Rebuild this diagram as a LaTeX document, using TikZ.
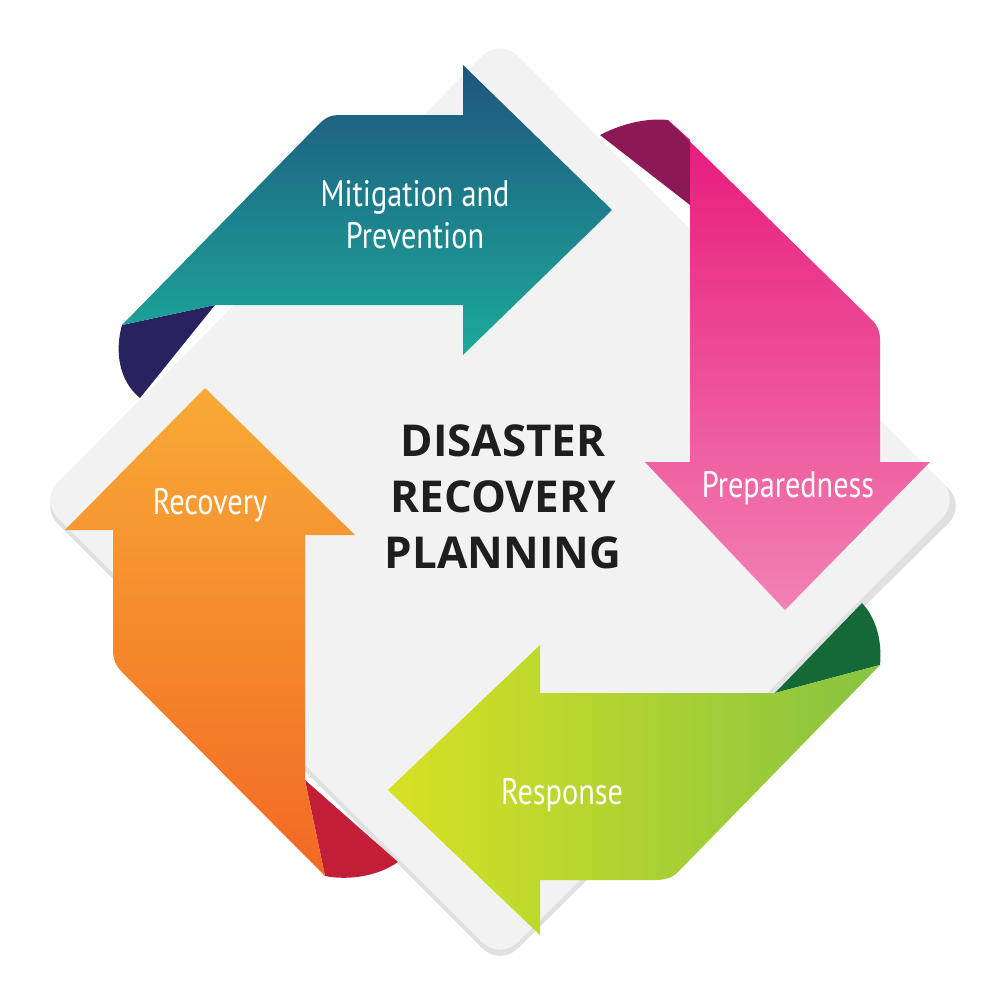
\documentclass[tikz,border=0pt]{standalone}
\usepackage{fontspec}
\setmainfont{PT Sans}
\newfontfamily\boldf{Open Sans}
\begin{document}
\begin{tikzpicture}[x=0.1mm,y=-0.1mm,
  lbl/.style={text=white,font=\fontsize{10.5}{12}\selectfont,xscale=0.82,align=center},
  fold/.style={draw=none}]
\useasboundingbox (0,0) rectangle (1000,1000);
% diamond with shadow
\fill[black!12,rounded corners=7pt] (500,46) -- (966,506) -- (500,966) -- (40,506) -- cycle;
\fill[gray!10,rounded corners=7pt] (500,38) -- (960,500) -- (500,960) -- (40,500) -- cycle;
% top teal arrow
\fill[fold,fill={rgb,255:red,40;green,35;blue,95}] (122,325) -- (215,305) -- (140,398) .. controls (118,380) and (115,350) .. (122,325);
\shade[left color={rgb,255:red,30;green,85;blue,125},right color={rgb,255:red,28;green,170;blue,155},shading angle=0]
 (122,325) -- (318,125) .. controls (325,118) and (330,115) .. (340,115) -- (463,115) -- (463,65) -- (612,210) -- (463,355) -- (463,305) -- (215,305) -- cycle;
\node[lbl] (t1) at (415,215) {Mitigation and\\Prevention};
% right pink arrow
\fill[fold,fill={rgb,255:red,140;green,25;blue,85}] (600,135) .. controls (625,122) and (650,118) .. (668,120) -- (690,140) -- (690,205) -- cycle;
\shade[top color={rgb,255:red,232;green,24;blue,122},bottom color={rgb,255:red,242;green,130;blue,180}]
 (668,120) -- (872,320) .. controls (878,326) and (880,332) .. (880,340) -- (880,462) -- (930,462) -- (785,610) -- (645,462) -- (690,462) -- (690,140) -- cycle;
\node[lbl] (t2) at (788,488) {Preparedness};
% bottom green arrow
\fill[fold,fill={rgb,255:red,20;green,105;blue,55}] (775,693) -- (862,603) .. controls (878,620) and (882,645) .. (880,665) -- cycle;
\shade[left color={rgb,255:red,215;green,225;blue,35},right color={rgb,255:red,135;green,195;blue,65}]
 (880,665) -- (678,872) .. controls (672,878) and (665,880) .. (655,880) -- (540,880) -- (540,935) -- (388,790) -- (540,645) -- (540,693) -- (775,693) -- cycle;
\node[lbl] (t3) at (562,795) {Response};
% left orange arrow
\fill[fold,fill={rgb,255:red,195;green,30;blue,55}] (305,780) -- (398,862) .. controls (375,878) and (345,880) .. (325,876) -- cycle;
\shade[top color={rgb,255:red,248;green,170;blue,55},bottom color={rgb,255:red,242;green,105;blue,35}]
 (65,530) -- (205,388) -- (355,535) -- (305,535) -- (305,780) -- (325,876) -- (122,672) .. controls (116,666) and (113,660) .. (113,650) -- (113,530) -- cycle;
\node[lbl] (t4) at (210,505) {Recovery};
% center
\node[font=\boldf\bfseries\fontsize{12.5}{16}\selectfont,align=center,text={rgb,255:red,30;green,30;blue,30}] (c) at (503,497) {DISASTER\\RECOVERY\\PLANNING};
\end{tikzpicture}
\end{document}
